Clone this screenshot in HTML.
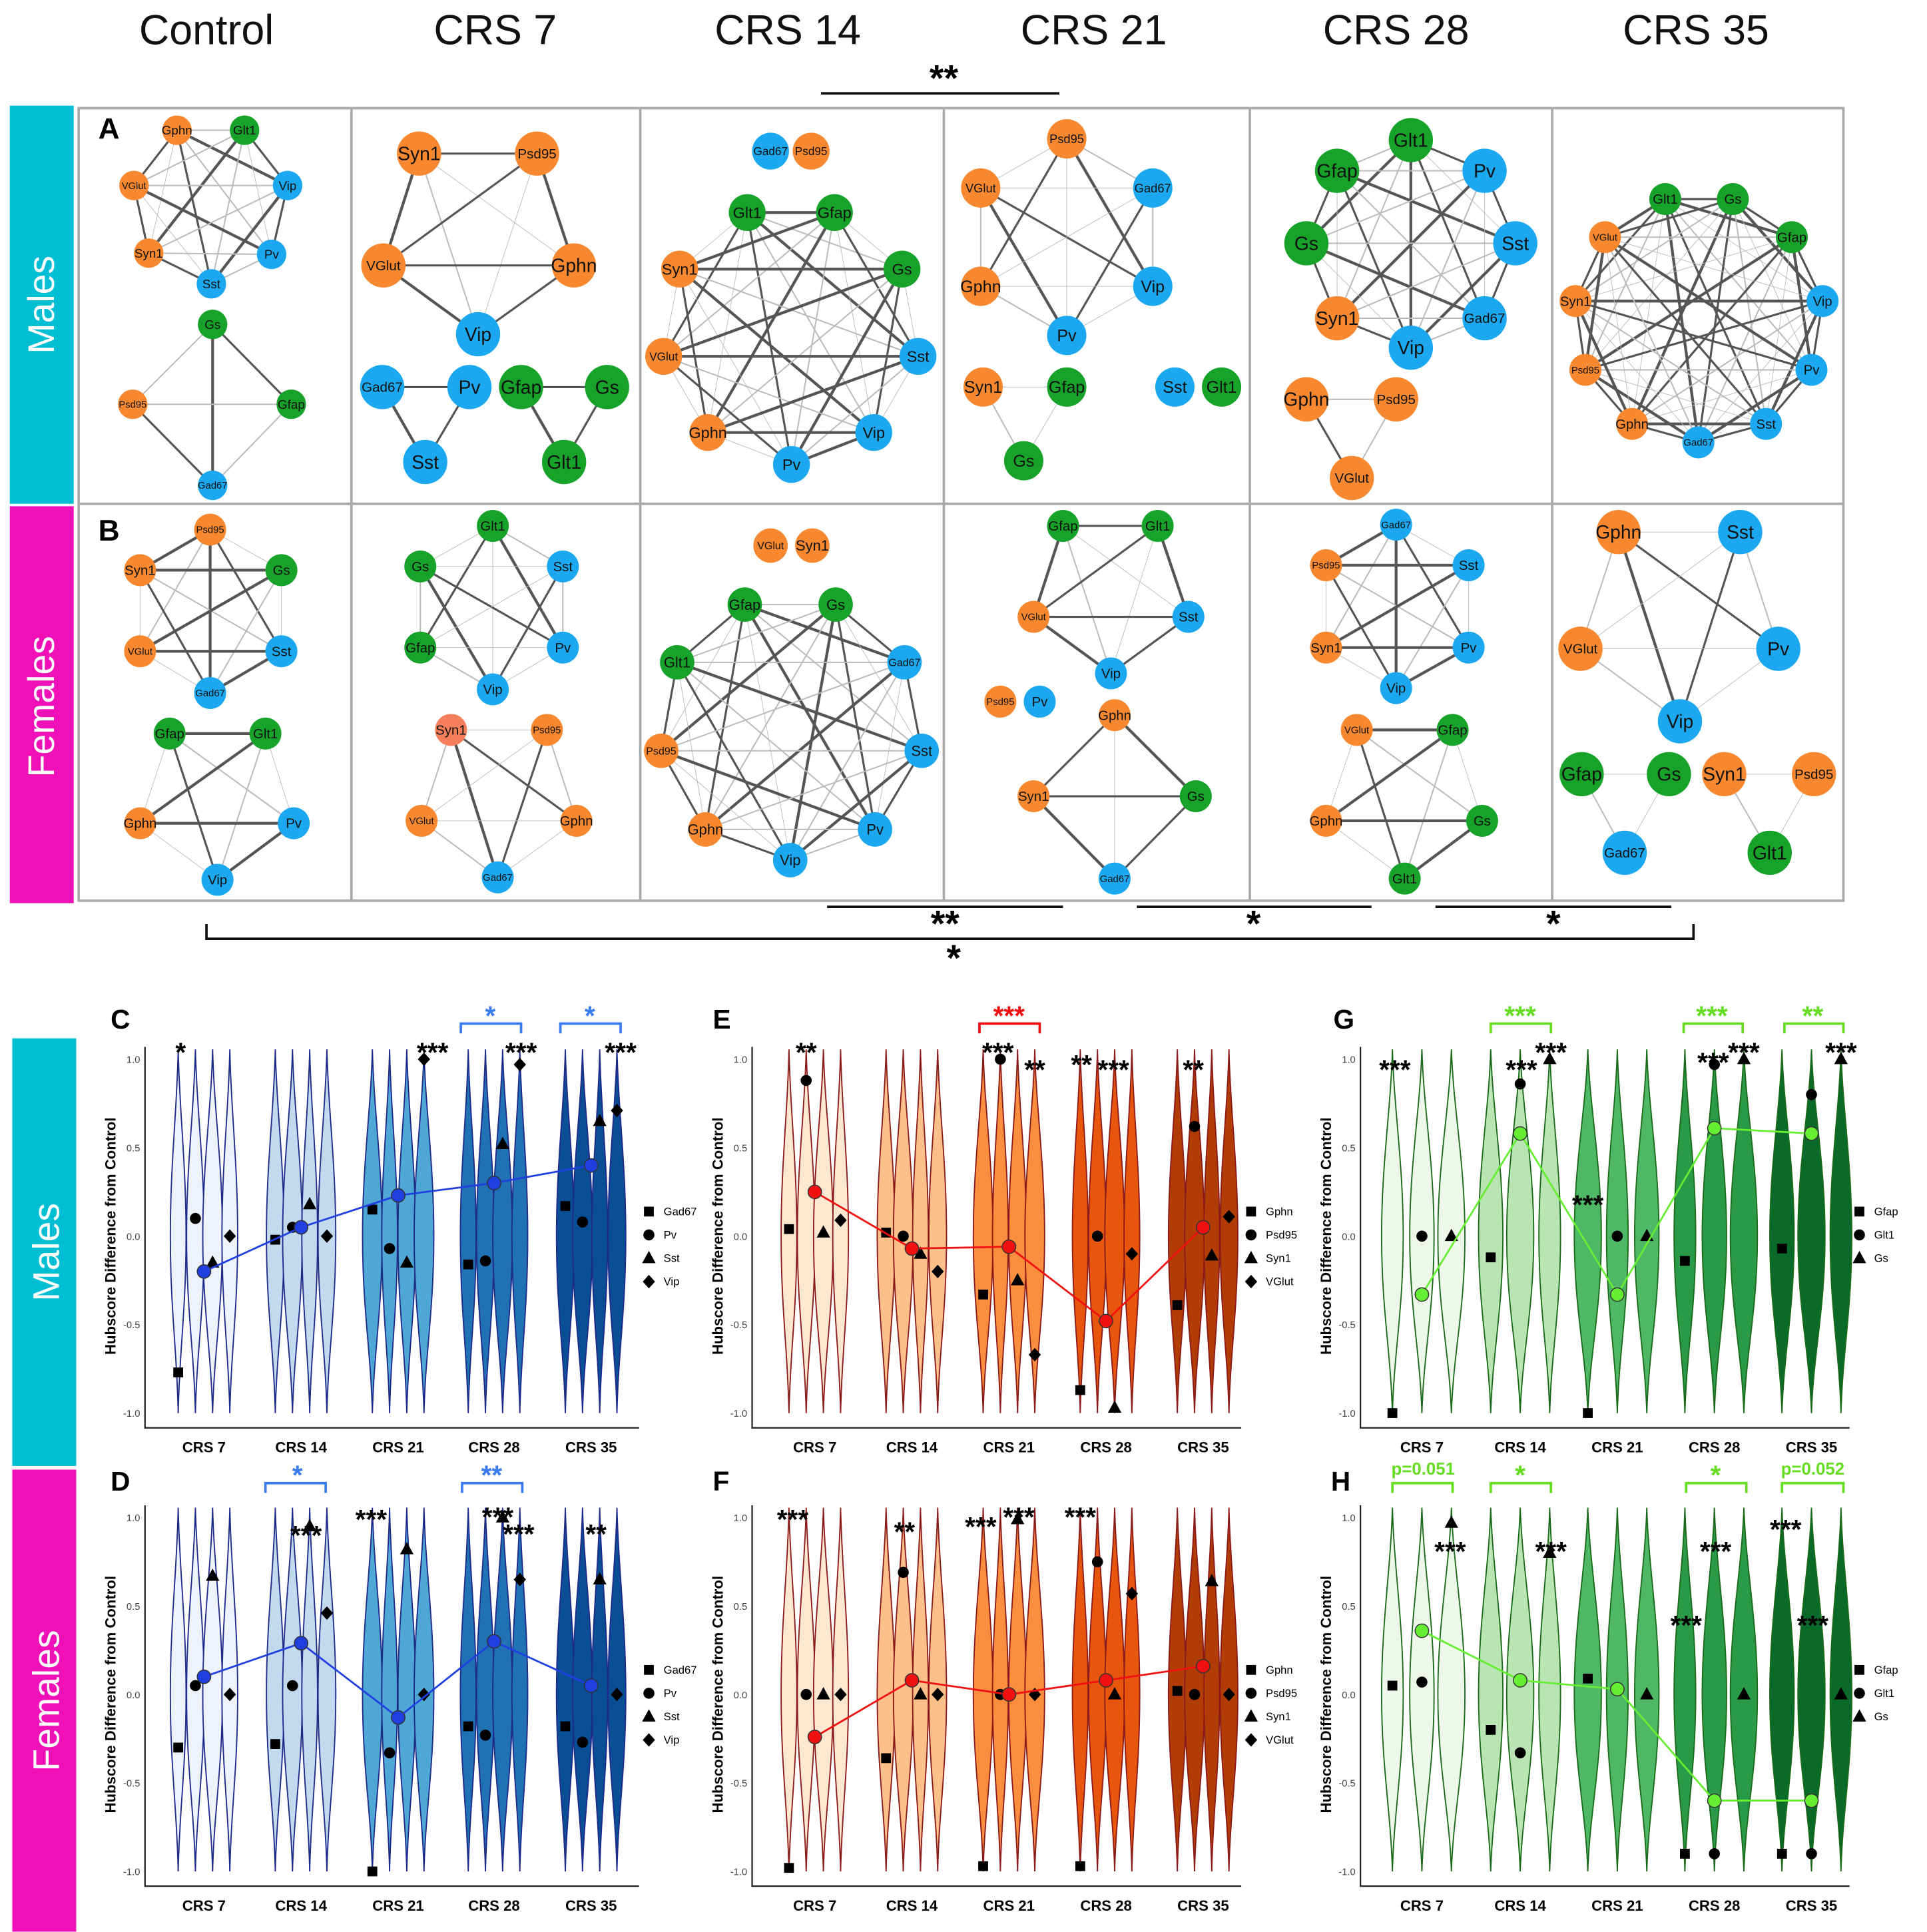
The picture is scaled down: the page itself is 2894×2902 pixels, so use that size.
<!DOCTYPE html>
<html><head><meta charset="utf-8">
<style>
html,body{margin:0;padding:0;background:#fff;}
svg{display:block;font-family:"Liberation Sans",Arial,sans-serif;}
</style></head>
<body>
<svg id="fig" xmlns="http://www.w3.org/2000/svg" width="2894" height="2902" viewBox="0 0 1568 1572.3" preserveAspectRatio="none">
<rect width="1568" height="1573" fill="#fff"/>
<g font-size="34" text-anchor="middle" fill="#111">
<text x="168" y="36">Control</text><text x="403" y="36">CRS 7</text><text x="641" y="36">CRS 14</text>
<text x="890" y="36">CRS 21</text><text x="1136" y="36">CRS 28</text><text x="1380" y="36">CRS 35</text>
</g>
<g>
<line x1="668" y1="76" x2="862" y2="76" stroke="#111" stroke-width="2"/>
<text x="768" y="74" font-size="30" font-weight="bold" text-anchor="middle">**</text>
</g>
<rect x="8" y="86" width="52" height="324" fill="#00BFD4"/>
<text transform="translate(44,248) rotate(-90)" font-size="30" fill="#fff" text-anchor="middle">Males</text>
<rect x="8" y="412" width="52" height="323" fill="#F010B8"/>
<text transform="translate(44,575) rotate(-90)" font-size="30" fill="#fff" text-anchor="middle">Females</text>
<rect x="10" y="845" width="52" height="348" fill="#00BFD4"/>
<text transform="translate(48,1019) rotate(-90)" font-size="30" fill="#fff" text-anchor="middle">Males</text>
<rect x="10" y="1196" width="52" height="376" fill="#F010B8"/>
<text transform="translate(48,1384) rotate(-90)" font-size="30" fill="#fff" text-anchor="middle">Females</text>
<g id="net"></g>
<g stroke="#111" stroke-width="2" fill="none">
<line x1="673" y1="738" x2="865" y2="738"/><line x1="925" y1="738" x2="1116" y2="738"/><line x1="1168" y1="738" x2="1360" y2="738"/>
<polyline points="168,752 168,764 1378,764 1378,752"/>
</g>
<g font-size="30" font-weight="bold" text-anchor="middle">
<text x="769" y="762">**</text><text x="1020" y="762">*</text><text x="1264" y="762">*</text><text x="776" y="790">*</text>
</g>
<g id="vio"></g>
</svg>
<script>
const NS='http://www.w3.org/2000/svg';
function mk(tag,attrs,parent,txt){const e=document.createElementNS(NS,tag);for(const k in attrs)e.setAttribute(k,attrs[k]);if(txt!==undefined)e.textContent=txt;parent.appendChild(e);return e;}
const O='#F7882F',G='#17A22A',B='#1BA8F0';
const netPanels=[
 {r:12,c:[[['Gphn',144,106,O],['Glt1',199,106,G],['VGlut',109,151,O],['Vip',234,151,B],['Syn1',121,206,O],['Pv',221,207,B],['Sst',172,231,B]],[['Gs',173,264,G],['Psd95',108,329,O],['Gfap',237,329,G],['Gad67',173,395,B]]]},
 {r:18,c:[[['Syn1',341,125,O],['Psd95',437,125,O],['VGlut',312,216,O],['Gphn',467,216,O],['Vip',389,272,B]],[['Gad67',311,315,B],['Pv',382,315,B],['Sst',346,376,B]],[['Gfap',424,315,G],['Gs',494,315,G],['Glt1',459,376,G]]]},
 {r:15,c:[[['Gad67',627,123,B]],[['Psd95',660,123,O]],[['Glt1',608,173,G],['Gfap',679,173,G],['Syn1',553,219,O],['Gs',734,219,G],['VGlut',540,290,O],['Sst',747,290,B],['Gphn',576,352,O],['Vip',711,352,B],['Pv',644,378,B]]]},
 {r:16,c:[[['Psd95',868,113,O],['VGlut',798,153,O],['Gad67',938,153,B],['Gphn',798,233,O],['Vip',938,233,B],['Pv',868,273,B]],[['Syn1',800,315,O],['Gfap',868,315,G],['Gs',833,375,G]],[['Sst',956,315,B]],[['Glt1',994,315,G]]]},
 {r:18,c:[[['Glt1',1148,114,G],['Gfap',1088,139,G],['Pv',1208,139,B],['Gs',1063,198,G],['Sst',1233,198,B],['Syn1',1088,259,O],['Gad67',1208,259,B],['Vip',1148,283,B]],[['Gphn',1063,325,O],['Psd95',1136,325,O],['VGlut',1100,389,O]]]},
 {r:13,c:[[['Glt1',1355,162,G],['Gs',1410,162,G],['Gfap',1458,193,G],['Vip',1483,245,B],['Pv',1474,301,B],['Sst',1437,345,B],['Gad67',1382,360,B],['Gphn',1328,345,O],['Psd95',1290,301,O],['Syn1',1282,245,O],['VGlut',1306,193,O]]]},
 {r:13,c:[[['Psd95',171,431,O],['Syn1',114,464,O],['Gs',229,464,G],['VGlut',114,530,O],['Sst',229,530,B],['Gad67',171,564,B]],[['Gfap',138,597,G],['Glt1',216,597,G],['Gphn',114,670,O],['Pv',239,670,B],['Vip',177,716,B]]]},
 {r:13,c:[[['Glt1',401,428,G],['Gs',342,461,G],['Sst',458,461,B],['Gfap',342,527,G],['Pv',458,527,B],['Vip',401,561,B]],[['Syn1',367,594,'#F47F5A'],['Psd95',445,594,O],['VGlut',343,668,O],['Gphn',469,668,O],['Gad67',405,714,B]]]},
 {r:14,c:[[['VGlut',627,444,O]],[['Syn1',661,444,O]],[['Gfap',606,492,G],['Gs',680,492,G],['Glt1',551,539,G],['Gad67',736,539,B],['Psd95',538,611,O],['Sst',750,611,B],['Gphn',574,675,O],['Pv',712,675,B],['Vip',643,700,B]]]},
 {r:13,c:[[['Gfap',865,428,G],['Glt1',942,428,G],['VGlut',841,502,O],['Sst',967,502,B],['Vip',904,548,B]],[['Psd95',814,571,O]],[['Pv',846,571,B]],[['Gphn',907,582,O],['Syn1',841,648,O],['Gs',973,648,G],['Gad67',907,715,B]]]},
 {r:13,c:[[['Gad67',1136,427,B],['Psd95',1079,460,O],['Sst',1195,460,B],['Syn1',1079,527,O],['Pv',1195,527,B],['Vip',1136,560,B]],[['VGlut',1104,594,O],['Gfap',1182,594,G],['Gphn',1079,668,O],['Gs',1206,668,G],['Glt1',1143,715,G]]]},
 {r:18,c:[[['Gphn',1317,433,O],['Sst',1416,433,B],['VGlut',1286,528,O],['Pv',1447,528,B],['Vip',1367,587,B]],[['Gfap',1287,630,G],['Gs',1358,630,G],['Gad67',1322,694,B]],[['Syn1',1403,630,O],['Psd95',1476,630,O],['Glt1',1440,694,G]]]}
];
const net=document.getElementById('net');
const frame=mk('rect',{x:64,y:88,width:1436,height:645,fill:'none',stroke:'#aaa','stroke-width':2},net);


[286,521,768,1017,1263].forEach(x=>{const l=mk('line',{x1:x,y1:88,x2:x,y2:733,stroke:'#aaa','stroke-width':2},net);

});
const hl=mk('line',{x1:64,y1:410,x2:1500,y2:410,stroke:'#aaa','stroke-width':2},net);


const la=mk('text',{x:80,y:113,'font-size':24,'font-weight':'bold'},net,'A');


const lb=mk('text',{x:80,y:440,'font-size':24,'font-weight':'bold'},net,'B');


netPanels.forEach((p,pi)=>{
 const g=mk('g',{},net);
 
 
 p.c.forEach(comp=>{
  for(let i=0;i<comp.length;i++)for(let j=i+1;j<comp.length;j++){
   const w=((i*3+j*5+pi)%4)*0.6+0.5;
   const e=mk('line',{x1:comp[i][1],y1:comp[i][2],x2:comp[j][1],y2:comp[j][2],stroke:w>1.5?'#555':'#bbb','stroke-width':w},g);
   
   
  }
 });
 p.c.forEach(comp=>comp.forEach(n=>{
  const c=mk('circle',{cx:n[1],cy:n[2],r:p.r,fill:n[3]},g);
  
  
  const fs=Math.max(8,p.r*(n[0].length>4?0.62:0.85));
  const t=mk('text',{x:n[1],y:n[2]+fs*0.35,'font-size':fs,'text-anchor':'middle',fill:'#111'},g,n[0]);
  
  
 }));
});
const catLabels=['CRS 7','CRS 14','CRS 21','CRS 28','CRS 35'];
const yTicks=[1.0,0.5,0.0,-0.5,-1.0];
const C_gad67=[-0.77,-0.02,0.15,-0.16,0.17], C_pv=[0.1,0.05,-0.07,-0.14,0.08], C_sst=[-0.15,0.18,-0.15,0.52,0.65], C_vip=[0,0,1.0,0.97,0.71], C_mean=[-0.2,0.05,0.23,0.3,0.4];
const D_gad67=[-0.3,-0.28,-1.0,-0.18,-0.18], D_pv=[0.05,0.05,-0.33,-0.23,-0.27], D_sst=[0.67,0.95,0.82,1.0,0.65], D_vip=[0,0.46,0,0.65,0], D_mean=[0.1,0.29,-0.13,0.3,0.05];
const E_gphn=[0.04,0.02,-0.33,-0.87,-0.39], E_psd95=[0.88,0,1.0,0,0.62], E_syn1=[0.02,-0.1,-0.25,-0.97,-0.11], E_vglut=[0.09,-0.2,-0.67,-0.1,0.11], E_mean=[0.25,-0.07,-0.06,-0.48,0.05];
const F_gphn=[-0.98,-0.36,-0.97,-0.97,0.02], F_psd95=[0,0.69,0,0.75,0], F_syn1=[0,0,0.99,0,0.64], F_vglut=[0,0,0,0.57,0], F_mean=[-0.24,0.08,0,0.08,0.16];
const G_gfap=[-1.0,-0.12,-1.0,-0.14,-0.07], G_glt1=[0,0.86,0,0.97,0.8], G_gs=[0,1.0,0,1.0,1.0], G_mean=[-0.33,0.58,-0.33,0.61,0.58];
const H_gfap=[0.05,-0.2,0.09,-0.9,-0.9], H_glt1=[0.07,-0.33,0.03,-0.9,-0.9], H_gs=[0.97,0.8,0,0,0], H_mean=[0.36,0.08,0.03,-0.6,-0.6];
const blues=['#EEF2FB','#C3D9EE','#4FA7D6','#2171B5','#0A4E96'];
const oranges=['#FEE8D2','#FDC08A','#FB8E3E','#E8560E','#B23C05'];
const greens=['#EEF8EA','#BAE4B3','#4FB866','#2A9A48','#0A6A2A'];
const panels=[
 {id:'C',x0:118,x1:520,yT:862,yB:1150,cats:[166,245,324,402,481],off:[-21,-7,7,21],series:[C_gad67,C_pv,C_sst,C_vip],mean:C_mean,names:['Gad67','Pv','Sst','Vip'],fill:blues,line:'#1E2A8A',mc:'#1F3FE0',lx:90,ly:837},
 {id:'D',x0:118,x1:520,yT:1235,yB:1523,cats:[166,245,324,402,481],off:[-21,-7,7,21],series:[D_gad67,D_pv,D_sst,D_vip],mean:D_mean,names:['Gad67','Pv','Sst','Vip'],fill:blues,line:'#1E2A8A',mc:'#1F3FE0',lx:90,ly:1213},
 {id:'E',x0:612,x1:1010,yT:862,yB:1150,cats:[663,742,821,900,979],off:[-21,-7,7,21],series:[E_gphn,E_psd95,E_syn1,E_vglut],mean:E_mean,names:['Gphn','Psd95','Syn1','VGlut'],fill:oranges,line:'#8B1A1A',mc:'#F01010',lx:580,ly:837},
 {id:'F',x0:612,x1:1010,yT:1235,yB:1523,cats:[663,742,821,900,979],off:[-21,-7,7,21],series:[F_gphn,F_psd95,F_syn1,F_vglut],mean:F_mean,names:['Gphn','Psd95','Syn1','VGlut'],fill:oranges,line:'#8B1A1A',mc:'#F01010',lx:580,ly:1213},
 {id:'G',x0:1107,x1:1505,yT:862,yB:1150,cats:[1157,1237,1316,1395,1474],off:[-24,0,24],series:[G_gfap,G_glt1,G_gs],mean:G_mean,names:['Gfap','Glt1','Gs'],fill:greens,line:'#1A6A1A',mc:'#66EE33',lx:1085,ly:837},
 {id:'H',x0:1107,x1:1505,yT:1235,yB:1523,cats:[1157,1237,1316,1395,1474],off:[-24,0,24],series:[H_gfap,H_glt1,H_gs],mean:H_mean,names:['Gfap','Glt1','Gs'],fill:greens,line:'#1A6A1A',mc:'#66EE33',lx:1083,ly:1213}
];
const vio=document.getElementById('vio');
function marker(g,k,x,y,col){
 let e;
 if(k===0)e=mk('rect',{x:x-4,y:y-4,width:8,height:8,fill:col},g);
 else if(k===1)e=mk('circle',{cx:x,cy:y,r:4.5,fill:col},g);
 else if(k===2)e=mk('polygon',{points:`${x},${y-6} ${x-5.5},${y+4} ${x+5.5},${y+4}`,fill:col},g);
 else e=mk('polygon',{points:`${x},${y-5.5} ${x+5},${y} ${x},${y+5.5} ${x-5},${y}`,fill:col},g);
 return e;
}
panels.forEach(p=>{
 const g=mk('g',{},vio);
 
 
 const y0=(p.yT+p.yB)/2, half=(p.yB-p.yT)/2;
 const ys=v=>y0-v*half;
 const lab=mk('text',{x:p.lx,y:p.ly,'font-size':22,'font-weight':'bold'},g,p.id);
 
 
 const ax=mk('path',{d:`M${p.x0},${p.yT-10} V${p.yB+12} H${p.x1}`,stroke:'#222','stroke-width':1.2,fill:'none'},g);
 
 
 yTicks.forEach(t=>{
  const tl=mk('text',{x:p.x0-4,y:ys(t)+3,'font-size':8,'text-anchor':'end',fill:'#444'},g,t.toFixed(1));
  
  
 });
 const yt=mk('text',{transform:`translate(${p.x0-24},${y0}) rotate(-90)`,'font-size':12,'font-weight':'bold','text-anchor':'middle'},g,'Hubscore Difference from Control');
 
 
 p.cats.forEach((cx,ci)=>{
  const xl=mk('text',{x:cx,y:p.yB+32,'font-size':12,'font-weight':'bold','text-anchor':'middle'},g,catLabels[ci]);
  
  
  p.off.forEach((o,si)=>{
   const x=cx+o, w=(p.off.length===3?11:8)*(0.8+0.1*((ci+si)%3));
   const top=ys(1.0)-8, bot=ys(-1.0);
   const d=`M${x},${top} C${x+w*0.15},${top+50} ${x+w},${y0-60} ${x+w},${y0} C${x+w},${y0+60} ${x+w*0.15},${bot-50} ${x},${bot} C${x-w*0.15},${bot-50} ${x-w},${y0+60} ${x-w},${y0} C${x-w},${y0-60} ${x-w*0.15},${top+50} ${x},${top}Z`;
   const v=mk('path',{d:d,fill:p.fill[ci],stroke:p.line,'stroke-width':1},g);
   
   
  });
  p.series.forEach((s,si)=>{
   const m=marker(g,si,cx+p.off[si],ys(s[ci]),'#000');
   
   
  });
 });
 const pts=p.cats.map((cx,ci)=>`${cx},${ys(p.mean[ci])}`).join(' ');
 const ml=mk('polyline',{points:pts,fill:'none',stroke:p.mc,'stroke-width':1.5},g);
 
 
 p.cats.forEach((cx,ci)=>{
  const c=mk('circle',{cx:cx,cy:ys(p.mean[ci]),r:5.5,fill:p.mc,stroke:'#333','stroke-width':0.8},g);
  
  
 });
 p.names.forEach((n,si)=>{
  const ly=y0-20+si*19;
  const m=marker(g,si,p.x1+8,ly,'#000');
  
  
  const t=mk('text',{x:p.x1+20,y:ly+3,'font-size':9},g,n);
  
  
 });
});
const stars=[
 [147,852,'*','#000'],[352,852,'***','#000'],[424,852,'***','#000'],[505,852,'***','#000'],
 [399,822,'*','#3A7BF0'],[480,822,'*','#3A7BF0'],
 [656,852,'**','#000'],[812,852,'***','#000'],[842,866,'**','#000'],[880,862,'**','#000'],[906,866,'***','#000'],[971,866,'**','#000'],[821,822,'***','#F01010'],
 [1135,866,'***','#000'],[1238,866,'***','#000'],[1262,852,'***','#000'],[1292,976,'***','#000'],[1394,860,'***','#000'],[1419,852,'***','#000'],[1498,852,'***','#000'],
 [1237,822,'***','#66DD22'],[1393,822,'***','#66DD22'],[1475,822,'**','#66DD22'],
 [242,1196,'*','#3A7BF0'],[400,1196,'**','#3A7BF0'],[249,1245,'***','#000'],[302,1232,'***','#000'],[405,1230,'***','#000'],[422,1244,'***','#000'],[485,1244,'**','#000'],
 [645,1232,'***','#000'],[736,1242,'**','#000'],[798,1238,'***','#000'],[829,1230,'***','#000'],[879,1230,'***','#000'],
 [1237,1196,'*','#66DD22'],[1396,1196,'*','#66DD22'],[1180,1258,'***','#000'],[1262,1258,'***','#000'],[1372,1318,'***','#000'],[1396,1258,'***','#000'],[1453,1240,'***','#000'],[1475,1318,'***','#000']
];
stars.forEach(s=>{
 const t=mk('text',{x:s[0],y:s[1]+12,'font-size':22,'font-weight':'bold','text-anchor':'middle',fill:s[3]},vio,s[2]);
 
 
});
const brackets=[[375,424,833,'#3A7BF0'],[456,505,833,'#3A7BF0'],[797,846,833,'#F01010'],[1213,1262,833,'#66DD22'],[1370,1418,833,'#66DD22'],[1452,1500,833,'#66DD22'],
 [216,265,1207,'#3A7BF0'],[376,425,1207,'#3A7BF0'],[1133,1182,1207,'#66DD22'],[1213,1262,1207,'#66DD22'],[1372,1421,1207,'#66DD22'],[1450,1500,1207,'#66DD22']];
brackets.forEach(b=>{
 const e=mk('polyline',{points:`${b[0]},${b[2]+8} ${b[0]},${b[2]} ${b[1]},${b[2]} ${b[1]},${b[2]+8}`,fill:'none',stroke:b[3],'stroke-width':2},vio);
 
 
});
[[1158,1200,'p=0.051'],[1475,1200,'p=0.052']].forEach(p=>{
 const t=mk('text',{x:p[0],y:p[1],'font-size':14,'font-weight':'bold','text-anchor':'middle',fill:'#66DD22'},vio,p[2]);
 
 
});
</script>
</body></html>
